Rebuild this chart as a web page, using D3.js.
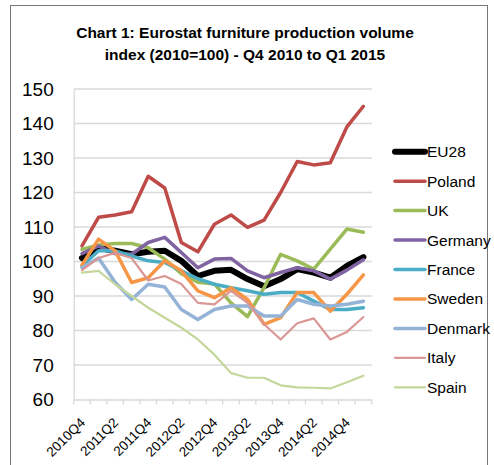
<!DOCTYPE html>
<html><head><meta charset="utf-8">
<script src="https://cdn.jsdelivr.net/npm/d3@7"></script>
<style>body{margin:0;background:#fff}svg{display:block}</style>
</head><body><svg id="c" width="494" height="465"></svg>
<script>
const quarters = ["2010Q4","2011Q1","2011Q2","2011Q3","2011Q4","2012Q1","2012Q2","2012Q3","2012Q4","2013Q1","2013Q2","2013Q3","2013Q4","2014Q1","2014Q2","2014Q3","2014Q4","2015Q1"];
const yTicks = [60,70,80,90,100,110,120,130,140,150];
const seriesNames = ["EU28","Poland","UK","Germany","France","Sweden","Denmark","Italy","Spain"];
const EU28    = [101,103.9,103.1,102.1,102.8,103.1,100.2,95.8,97.3,97.6,94.9,92.8,94.9,97.8,96.8,95.3,98.7,101.3];
const Poland  = [104.5,112.8,113.5,114.4,124.7,121.3,105.5,102.8,110.8,113.5,109.9,112,120,129,128,128.6,139,145];
const UK      = [103.5,104.8,105.2,105.2,104,100.7,96.5,94,93.5,88,84,92.4,102.1,100.2,97.8,103.6,109.4,108.5];
const Germany = [102.3,104.5,102.3,102.1,105.5,107,102.6,98.2,100.7,100.9,97.3,95.3,96.8,98.2,97.3,94.9,97.5,100.5];
const France  = [98.7,103.1,103.1,101.6,100.2,99.7,97.3,95,93.4,92.4,91.5,90.5,91,91,88.5,86.1,86.1,86.6];
const Sweden  = [99,106.5,103.1,93.9,95.3,100.2,97.3,91.5,89.5,92.4,89,81.8,83.7,91,91,85.6,90.5,96.1];
const Denmark = [98.2,101,94,89,93.4,92.6,86.1,83.2,86.1,87.1,87.1,84.2,84.2,89,87.6,87.1,87.6,88.5];
const Italy   = [97.5,101,102.5,101,94.5,95.8,93.5,88,87.6,91.5,88,81.8,77.4,82.1,83.5,77.4,79.6,83.9];
const Spain   = [96.8,97.3,93.4,90,86.6,83.7,80.8,77.4,73,67.7,66.3,66.3,64.1,63.5,63.4,63.2,65,66.9];
const seriesValues = [EU28,Poland,UK,Germany,France,Sweden,Denmark,Italy,Spain];
const colors = ["#000000","#BE4B48","#9BBB59","#8064A2","#4BACC6","#F79646","#95B3D7","#DA9694","#C4D79B"];
const widths = [6,3.5,3.5,3.5,3.5,3.5,3.5,2.2,2.2];

const svg = d3.select("#c");
const font = "'Liberation Sans', Arial, sans-serif";

svg.append("rect").attr("x",10.5).attr("y",5.5).attr("width",477).attr("height",470)
  .attr("fill","none").attr("stroke","#777").attr("stroke-width",1);

const x = d3.scaleBand().domain(quarters).range([73.7,371.7]).padding(0);
const y = d3.scaleLinear().domain([60,150]).range([399.5,89]);
const cx = d => x(d) + x.bandwidth()/2;

// gridlines
svg.append("g").selectAll("line").data(yTicks.slice(1)).join("line")
  .attr("x1",73.7).attr("x2",371.7).attr("y1",d=>y(d)).attr("y2",d=>y(d))
  .attr("stroke","#D9D9D9").attr("stroke-width",1.3);

// y axis
const ya = svg.append("g").attr("transform","translate(73.7,0)")
  .call(d3.axisLeft(y).tickValues(yTicks).tickSize(0).tickPadding(20));
ya.select(".domain").attr("stroke","#D9D9D9").attr("stroke-width",1.3);
ya.selectAll("text").attr("font-family",font).attr("font-size",19).attr("fill","#000");

// x axis
const xa = svg.append("g").attr("transform","translate(0,399.5)")
  .call(d3.axisBottom(x).tickValues([]).tickSizeOuter(0));
xa.select(".domain").attr("stroke","#D9D9D9").attr("stroke-width",1.3);
xa.selectAll("line.tk").data(d3.range(quarters.length+1)).join("line").attr("class","tk")
  .attr("x1",i=>73.7+i*x.bandwidth()).attr("x2",i=>73.7+i*x.bandwidth())
  .attr("y1",0).attr("y2",5).attr("stroke","#D9D9D9").attr("stroke-width",1.3);
xa.selectAll("text.lb").data(quarters.filter((d,i)=>i%2===0)).join("text").attr("class","lb")
  .attr("transform",d=>`translate(${cx(d)+4},${24}) rotate(-45)`)
  .attr("text-anchor","end").attr("font-family",font).attr("font-size",13.5).attr("fill","#000").text(d=>d);

// lines
const line = d3.line().x((d,i)=>cx(quarters[i])).y(d=>y(d));
svg.append("g").selectAll("path").data(seriesValues).join("path")
  .attr("d",line).attr("fill","none").attr("stroke",(d,i)=>colors[i])
  .attr("stroke-width",(d,i)=>widths[i]).attr("stroke-linejoin","round").attr("stroke-linecap","round");

// legend
const lg = svg.append("g").selectAll("g").data(seriesNames).join("g")
  .attr("transform",(d,i)=>`translate(395,${151.7+i*29.45})`);
lg.append("line").attr("x1",0).attr("x2",30).attr("y1",0).attr("y2",0)
  .attr("stroke",(d,i)=>colors[i]).attr("stroke-width",(d,i)=>widths[i]).attr("stroke-linecap","round");
lg.append("text").attr("x",32).attr("y",5.5).attr("font-family",font).attr("font-size",15.5).attr("fill","#000").text(d=>d);

// title
svg.append("text").attr("x",245).attr("y",38).attr("text-anchor","middle").attr("font-family",font)
  .attr("font-weight","bold").attr("font-size",15.5).text("Chart 1: Eurostat furniture production volume");
svg.append("text").attr("x",245).attr("y",60).attr("text-anchor","middle").attr("font-family",font)
  .attr("font-weight","bold").attr("font-size",15.5).text("index (2010=100) - Q4 2010 to Q1 2015");
</script></body></html>
